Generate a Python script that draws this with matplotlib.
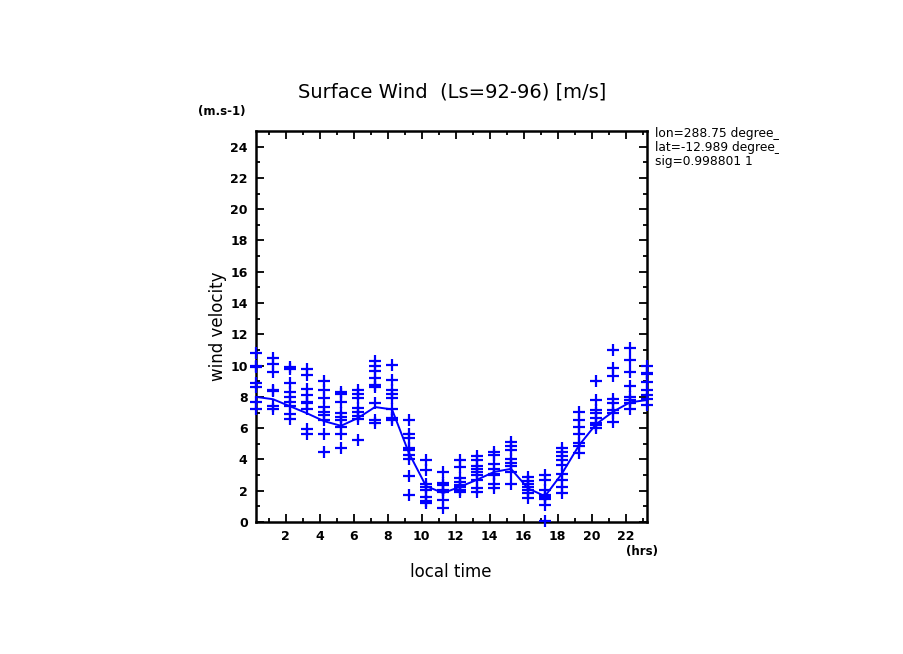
import matplotlib
matplotlib.use("Agg")
import matplotlib.pyplot as plt
import numpy as np

hours = [0.25 + i for i in range(24)]

points = [
    [10.8, 10.0, 9.9, 8.9, 8.6, 7.7, 7.2],
    [10.5, 10.1, 9.6, 8.45, 8.35, 7.4, 7.2],
    [9.9, 9.8, 8.9, 8.3, 8.0, 7.7, 7.4, 6.9, 6.6],
    [9.8, 9.4, 8.5, 8.1, 7.7, 7.6, 7.2, 5.95, 5.6],
    [9.0, 8.45, 7.9, 7.35, 7.05, 6.85, 6.5, 5.65, 4.45],
    [8.3, 8.2, 7.7, 6.95, 6.7, 6.5, 6.1, 5.65, 4.7],
    [8.45, 8.2, 7.95, 7.3, 7.05, 6.75, 6.6, 5.25],
    [10.3, 10.0, 9.65, 9.2, 8.75, 8.6, 7.6, 6.5, 6.35],
    [10.05, 9.05, 8.45, 8.2, 7.9, 7.2, 6.65, 6.5],
    [6.5, 5.65, 5.4, 4.75, 4.6, 4.3, 4.05, 2.95, 1.7],
    [3.95, 3.3, 2.4, 2.25, 2.05, 1.6, 1.35, 1.2],
    [3.2, 2.5, 2.35, 2.05, 1.9, 1.4, 0.9],
    [3.95, 3.5, 2.8, 2.55, 2.35, 2.25, 2.05, 1.9],
    [4.2, 3.95, 3.6, 3.4, 3.2, 3.0, 2.7, 2.15, 1.95],
    [4.45, 4.3, 3.7, 3.4, 3.1, 3.0, 2.4, 2.2],
    [5.1, 4.85, 4.6, 4.05, 3.8, 3.55, 3.2, 2.45],
    [2.85, 2.65, 2.45, 2.25, 2.05, 1.85, 1.55],
    [3.0, 2.7, 2.05, 1.75, 1.6, 1.45, 1.1, 0.05],
    [4.75, 4.5, 4.2, 3.95, 3.65, 3.1, 2.7, 2.25, 1.85],
    [7.05, 6.5, 6.05, 5.65, 5.05, 4.85, 4.4],
    [9.0, 7.8, 7.15, 6.95, 6.65, 6.35, 6.2, 6.0],
    [11.0, 9.85, 9.35, 7.85, 7.6, 7.15, 7.0, 6.4],
    [11.1, 10.35, 9.6, 8.7, 8.0, 7.8, 7.6, 7.25],
    [9.95, 9.5, 9.45, 8.95, 8.45, 8.1, 7.85, 7.5],
]

line_vals = [8.0, 7.85, 7.4, 6.95, 6.45, 6.15, 6.65, 7.35, 7.2, 4.4, 2.3, 1.85,
             2.25, 2.7, 3.2, 3.4, 2.15, 1.65, 3.1, 4.9, 6.25, 7.05, 7.65, 7.8]

title = "Surface Wind  (Ls=92-96) [m/s]"
xlabel = "local time"
ylabel = "wind velocity"
info_lines = ["lon=288.75 degree_east", "lat=-12.989 degree_north", "sig=0.998801 1"]

W, H = 904, 654
fig = plt.figure(figsize=(W / 100, H / 100), dpi=100)
fig.patch.set_facecolor("white")

def fx(px):
    return px / W

def fy(py):
    return 1 - py / H

ax_l, ax_r, ax_t, ax_b = 256, 647, 131, 522
ax = fig.add_axes([fx(ax_l), fy(ax_b), (ax_r - ax_l) / W, (ax_b - ax_t) / H])

blue = "#0000ff"
for h, vals in zip(hours, points):
    ax.plot([h] * len(vals), vals, linestyle="none", marker="+", markersize=8,
            markeredgewidth=1.6, color=blue, clip_on=False, zorder=3)
ax.plot(hours, line_vals, color=blue, linewidth=1.4, zorder=3, clip_on=False)

ax.set_xlim(0.25, 23.25)
ax.set_ylim(0, 25)
ax.set_xticks(range(2, 24, 2))
ax.set_xticks(range(1, 24), minor=True)
ax.set_yticks(range(0, 25, 2))
ax.set_yticks(range(1, 25), minor=True)
ax.tick_params(which="both", direction="in", top=True, right=True, width=1.3, color="black")
ax.tick_params(which="major", length=6, labelsize=9, pad=6)
ax.tick_params(which="minor", length=3)
for lab in ax.get_xticklabels() + ax.get_yticklabels():
    lab.set_fontweight("bold")
for sp in ax.spines.values():
    sp.set_linewidth(1.8)

fig.text(fx(452), fy(92), title, ha="center", va="center", fontsize=14)
fig.text(fx(451), fy(572), xlabel, ha="center", va="center", fontsize=12)
fig.text(fx(218), fy(326), ylabel, ha="center", va="center", fontsize=12, rotation=90)
fig.text(fx(222), fy(111), "(m.s-1)", ha="center", va="center", fontsize=8.5, fontweight="bold")
fig.text(fx(642), fy(551), "(hrs)", ha="center", va="center", fontsize=8.5, fontweight="bold")

info_ax = fig.add_axes([fx(652), fy(175), (779 - 652) / W, 55 / H])
info_ax.set_axis_off()
info_ax.set_xlim(652, 779)
info_ax.set_ylim(175, 120)
for i, t in enumerate(info_lines):
    info_ax.text(655, 134 + 14 * i, t, ha="left", va="center", fontsize=8.8, clip_on=True)

fig.savefig("out.png", dpi=100, facecolor="white")
